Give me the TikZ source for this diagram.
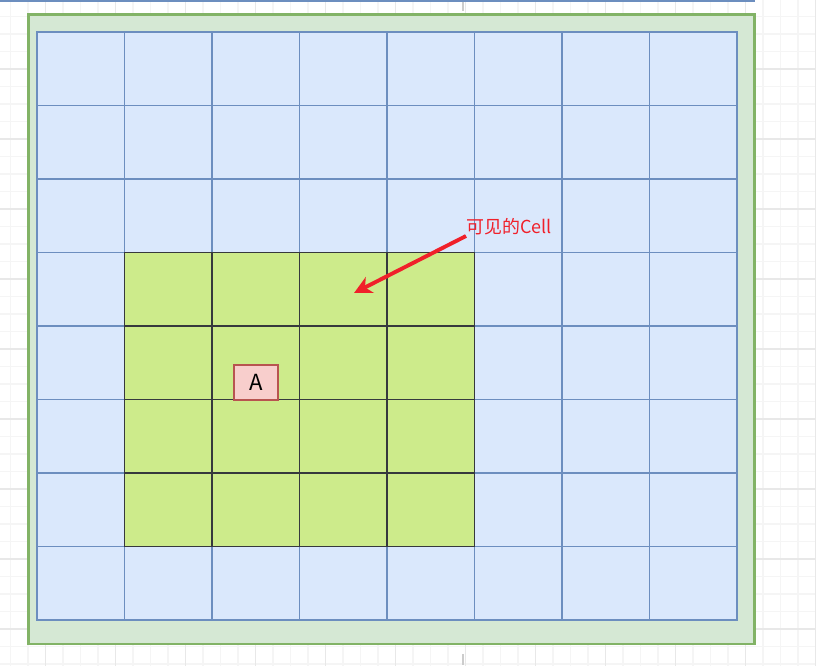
\documentclass[tikz,border=0pt]{standalone}
\usepackage{fontspec}
\setmainfont{Noto Sans CJK SC}
\usetikzlibrary{arrows.meta,positioning}

\definecolor{framefill}{HTML}{D5E8D4}
\definecolor{frameline}{HTML}{82B366}
\definecolor{cellfill}{HTML}{DAE8FC}
\definecolor{cellline}{HTML}{6C8EBF}
\definecolor{seenfill}{HTML}{CDEB8B}
\definecolor{seenline}{HTML}{36393D}
\definecolor{afill}{HTML}{F8CECC}
\definecolor{aline}{HTML}{B85450}
\definecolor{notered}{HTML}{F0202A}

\tikzset{
  cellbox/.style={draw=cellline, fill=cellfill, line width=0.45pt,
    minimum width=0.875cm, minimum height=0.735cm, inner sep=0pt, outer sep=0pt},
  seenbox/.style={cellbox, draw=seenline, fill=seenfill},
}

\begin{document}
\begin{tikzpicture}[x=0.01cm, y=-0.01cm, font=\fontsize{5.1}{6}\selectfont]
  \useasboundingbox (0,0) rectangle (816,666);
  % canvas grid
  \foreach \x in {10.5,28,...,816}
    \draw[gray!8, line width=0.3pt] (\x,0) -- (\x,666);
  \foreach \y in {16.5,34,...,666}
    \draw[gray!8, line width=0.3pt] (0,\y) -- (816,\y);
  \foreach \x in {45.5,115.5,...,816}
    \draw[gray!18, line width=0.3pt] (\x,0) -- (\x,666);
  \foreach \y in {69,139,...,666}
    \draw[gray!18, line width=0.3pt] (0,\y) -- (816,\y);
  \draw[gray!40, dashed, line width=0.3pt] (463,0) -- (463,666);
  \draw[cellline, line width=0.6pt] (0,0.8) -- (755,0.8);

  % outer frame
  \draw[frameline, fill=framefill, line width=0.6pt] (28.5,14.5) rectangle (754.5,644);

  % all cells
  \foreach \r in {0,...,7}
    \foreach \c in {0,...,7}
      \node[cellbox] (c\r\c) at ({80.75+87.5*\c},{68.75+73.5*\r}) {};
  % visible cells
  \foreach \r in {3,...,6}
    \foreach \c in {1,...,4}
      \node[seenbox] (v\r\c) at ({80.75+87.5*\c},{68.75+73.5*\r}) {};

  \node[draw=aline, fill=afill, line width=0.45pt, minimum width=0.44cm,
    minimum height=0.35cm, inner sep=0pt, font=\fontsize{6.3}{7}\selectfont] (a) at (256,382.5) {A};

  \node[anchor=south west, inner sep=0pt, text=notered] (lbl) at (466,236) {可见的Cell};
  \coordinate (tip) at (354,293);
  \draw[notered, line width=1.1pt, -{Stealth[length=5pt, width=5pt, inset=1.5pt]}]
    (lbl.south west) -- (tip);
\end{tikzpicture}
\end{document}
